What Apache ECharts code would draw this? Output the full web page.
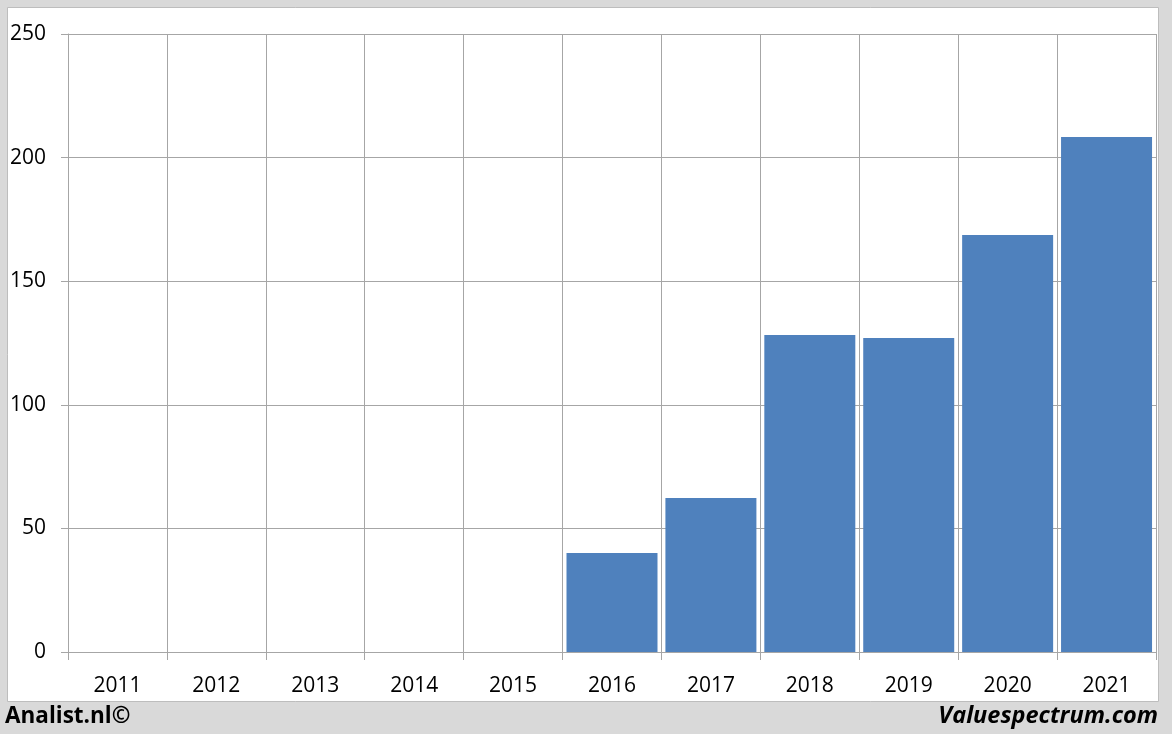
<!DOCTYPE html>
<html><head><meta charset="utf-8">
<script src="https://cdn.jsdelivr.net/npm/echarts@6/dist/echarts.min.js"></script>
<style>html,body{margin:0;padding:0;background:#d9d9d9}#c{width:1172px;height:734px}</style>
</head><body><div id="c"></div>
<script>
var categories = ['2011','2012','2013','2014','2015','2016','2017','2018','2019','2020','2021'];
var values = [null,null,null,null,null,40,62.3,128.2,127,168.7,208.3];
var yTicks = [0,50,100,150,200,250];
var FONT = "'Open Sans', sans-serif";
var chart = echarts.init(document.getElementById('c'), null, {renderer:'canvas'});
chart.setOption({
  backgroundColor:'#d9d9d9',
  animation:false,
  graphic:[
    {type:'rect', shape:{x:7.5,y:7.5,width:1151,height:694}, style:{fill:'#ffffff', stroke:'#bdbdbd', lineWidth:1}, z:-10},
    {type:'text', left:5, top:705, style:{text:'Analist.nl©', font:"bold 22.5px "+FONT, fill:'#000'}},
    {type:'text', right:14, top:705, style:{text:'Valuespectrum.com', font:"italic bold 23.5px "+FONT, fill:'#000'}}
  ],
  grid:{left:68, right:16, top:34, bottom:82, containLabel:false},
  xAxis:{type:'category', data:categories, boundaryGap:true,
    axisLine:{show:true, lineStyle:{color:'#a6a6a6', width:1}},
    axisTick:{show:true, length:8, alignWithLabel:false, lineStyle:{color:'#a6a6a6'}},
    splitLine:{show:true, lineStyle:{color:'#a6a6a6', width:1}},
    axisLabel:{color:'#000', fontSize:21, fontFamily:FONT, margin:24}
  },
  yAxis:{type:'value', min:0, max:250, interval:50,
    axisLine:{show:true, lineStyle:{color:'#a6a6a6'}},
    axisTick:{show:true, length:7, lineStyle:{color:'#a6a6a6'}},
    splitLine:{show:true, lineStyle:{color:'#a6a6a6', width:1}},
    axisLabel:{color:'#000', fontSize:21, fontFamily:FONT, margin:22,
      formatter:function(v){return yTicks.indexOf(v)>=0?String(v):'';}}
  },
  series:[{type:'bar', data:values, barCategoryGap:'8%', itemStyle:{color:'#4f81bd'}}]
});
</script></body></html>
